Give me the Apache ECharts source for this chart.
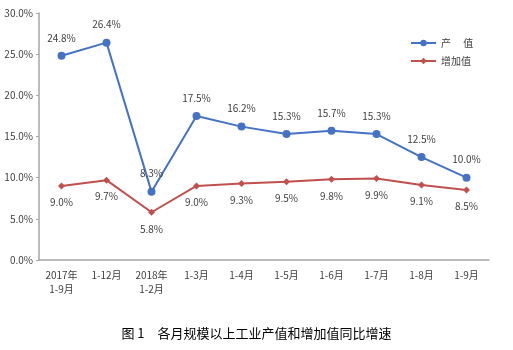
<!DOCTYPE html>
<html><head><meta charset="utf-8">
<script src="https://cdn.jsdelivr.net/npm/echarts@6/dist/echarts.min.js"></script>
<style>html,body{margin:0;padding:0;background:#fff}#c{width:513px;height:350px}</style>
</head><body><div id="c"></div>
<script>
var categories = ['2017年\n1-9月','1-12月','2018年\n1-2月','1-3月','1-4月','1-5月','1-6月','1-7月','1-8月','1-9月'];
var outputValues = [24.8, 26.4, 8.3, 17.5, 16.2, 15.3, 15.7, 15.3, 12.5, 10.0];
var addedValues = [9.0, 9.7, 5.8, 9.0, 9.3, 9.5, 9.8, 9.9, 9.1, 8.5];
var yTicks = [0, 5, 10, 15, 20, 25, 30];
var seriesNames = ['产　 值', '增加值'];
var titleText = '图 1　各月规模以上工业产值和增加值同比增速';

var font = '"Microsoft YaHei","Noto Sans CJK SC",sans-serif';
var chart = echarts.init(document.getElementById('c'));
chart.setOption({
  animation: false,
  title: {
    text: titleText, left: 'center', top: 322,
    textStyle: {fontSize: 13, fontWeight: 'normal', color: '#000', fontFamily: '"SimSun","Noto Sans CJK SC",sans-serif'}
  },
  legend: {
    orient: 'vertical', left: 405, top: 33, itemWidth: 25, itemHeight: 8, itemGap: 8,
    textStyle: {fontSize: 10, color: '#404040', fontFamily: font},
    data: [seriesNames[0], seriesNames[1]]
  },
  grid: {left: 39, right: 24, top: 13, bottom: 90, containLabel: false},
  xAxis: {
    type: 'category', data: categories, boundaryGap: true,
    axisLine: {lineStyle: {color: '#a6a6a6', width: 1.5}},
    axisTick: {alignWithLabel: true, length: 3, lineStyle: {color: '#a6a6a6'}},
    axisLabel: {fontSize: 10, color: '#404040', interval: 0, lineHeight: 14, margin: 8, fontFamily: font}
  },
  yAxis: {
    type: 'value', min: yTicks[0], max: yTicks[yTicks.length-1], interval: 5,
    axisLine: {show: true, lineStyle: {color: '#a6a6a6', width: 1.5}},
    axisTick: {show: true, length: 3, lineStyle: {color: '#a6a6a6'}},
    splitLine: {show: false},
    axisLabel: {fontSize: 10, color: '#404040', margin: 6, fontFamily: font,
      formatter: function(v){ return v.toFixed(1) + '%'; }}
  },
  series: [
    {
      name: seriesNames[0], type: 'line', data: outputValues,
      symbol: 'circle', symbolSize: 8,
      lineStyle: {color: '#4472C4', width: 2},
      itemStyle: {color: '#4472C4'},
      label: {show: true, position: 'top', distance: 9, fontSize: 10, color: '#404040', fontFamily: font,
        formatter: function(p){ return p.value.toFixed(1) + '%'; }},
      z: 3
    },
    {
      name: seriesNames[1], type: 'line', data: addedValues,
      symbol: 'diamond', symbolSize: 7,
      lineStyle: {color: '#C0504D', width: 2},
      itemStyle: {color: '#C0504D'},
      label: {show: true, position: 'bottom', distance: 8, fontSize: 10, color: '#404040', fontFamily: font,
        formatter: function(p){ return p.value.toFixed(1) + '%'; }},
      z: 2
    }
  ]
});
</script></body></html>
